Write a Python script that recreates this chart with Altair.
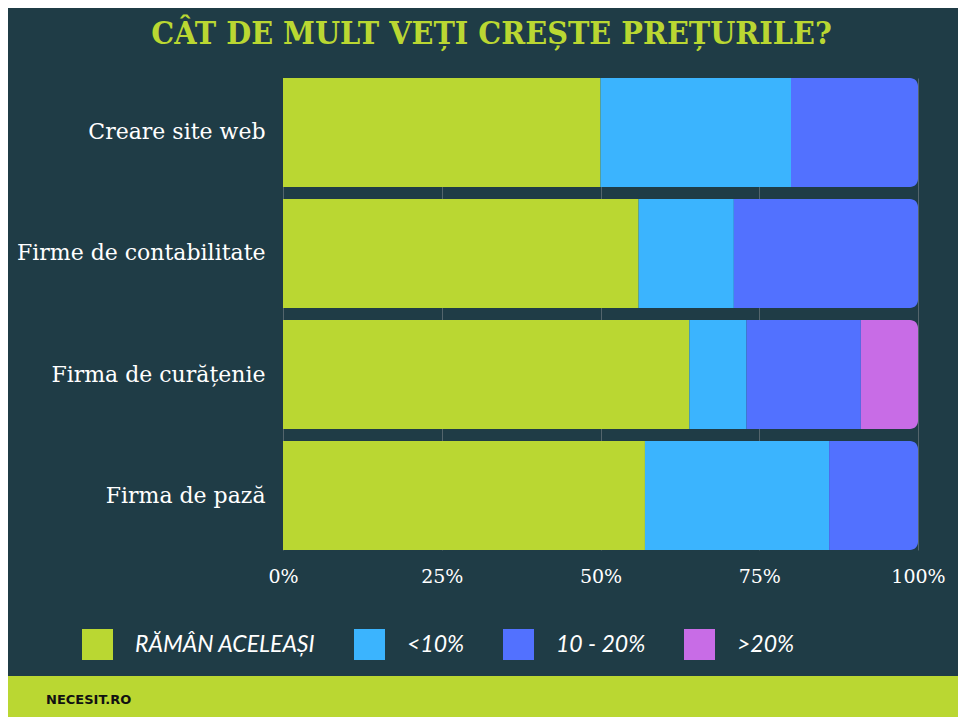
import altair as alt
import pandas as pd

categories = ["Creare site web", "Firme de contabilitate", "Firma de curățenie", "Firma de pază"]
series = ["RĂMÂN ACELEAȘI", "<10%", "10 - 20%", ">20%"]
colors = ["#bad732", "#3bb4fe", "#5271ff", "#c86ce6"]
raman = [50, 56, 64, 57]
sub10 = [30, 15, 9, 29]
mid = [20, 29, 18, 14]
over20 = [0, 0, 9, 0]
x_ticks = [0, 25, 50, 75, 100]
title_text = "CÂT DE MULT VEȚI CREȘTE PREȚURILE?"
footer_text = "NECESIT.RO"

rows = []
for si, (s, vals) in enumerate(zip(series, [raman, sub10, mid, over20])):
    for c, v in zip(categories, vals):
        rows.append({"cat": c, "serie": s, "ord": si, "val": v})
df = pd.DataFrame(rows)

BG = "#1f3c46"
LIME = "#bad732"
PW, PH = 635, 472
PAD = {"left": 275, "top": 70, "right": 40, "bottom": 167}

base = (
    alt.Chart(df)
    .transform_stack(stack="val", as_=["x0", "x1"], groupby=["cat"], sort=[alt.SortField("ord")])
    .transform_filter("datum.val > 0")
)

y = alt.Y(
    "cat:N", sort=categories,
    scale=alt.Scale(paddingInner=0.1, paddingOuter=0),
    axis=alt.Axis(title=None, labelFont="DejaVu Serif", labelFontSize=22, labelColor="white",
                  labelPadding=18, ticks=False, domain=False, labelLimit=400),
)
x = alt.X(
    "x0:Q",
    scale=alt.Scale(domain=[0, 100], nice=False),
    axis=alt.Axis(title=None, values=x_ticks, labelExpr="datum.value + '%'",
                  labelFont="DejaVu Serif", labelFontSize=19, labelColor="white",
                  labelPadding=17, ticks=False, domain=False, grid=True,
                  gridColor="#53656c", labelFlush=False),
)
color = alt.Color(
    "serie:N",
    scale=alt.Scale(domain=series, range=colors),
    legend=alt.Legend(orient="none", legendX=-201, legendY=551, direction="horizontal",
                      columns=4, symbolType="square", symbolSize=961, symbolStrokeWidth=0,
                      symbolOpacity=1, labelFont="Lato", labelFontStyle="italic",
                      labelFontSize=23, labelColor="white", labelOffset=22,
                      columnPadding=38, title=None, padding=0, labelLimit=400),
)

inner = base.transform_filter("datum.x1 < 100").mark_bar().encode(x=x, x2="x1:Q", y=y, color=color)
last = (
    base.transform_filter("datum.x1 >= 100")
    .mark_bar(cornerRadiusTopRight=8, cornerRadiusBottomRight=8)
    .encode(x=x, x2="x1:Q", y=y, color=color)
)

foot_df = pd.DataFrame({"t": [footer_text]})
footer = alt.Chart(foot_df).mark_rect(color=LIME).encode(
    x=alt.value(-275), x2=alt.value(675), y=alt.value(598), y2=alt.value(640)
)
footer_label = alt.Chart(foot_df).mark_text(
    font="DejaVu Sans", fontWeight="bold", fontSize=13, color="#111111",
    align="left", baseline="middle"
).encode(x=alt.value(-237), y=alt.value(622), text="t:N")

chart = (
    alt.layer(inner, last, footer, footer_label)
    .properties(
        width=PW, height=PH, padding=PAD, autosize=alt.AutoSizeParams(type="none"),
        title=alt.TitleParams(title_text, font="DejaVu Serif Condensed, DejaVu Serif",
                              fontSize=32, fontWeight="bold", color=LIME, anchor="middle",
                              dx=-109, dy=32, offset=34, baseline="alphabetic"),
    )
    .configure(background=BG)
    .configure_view(stroke=None)
)

chart.save("out.html", embed_options={"renderer": "svg", "actions": False})
